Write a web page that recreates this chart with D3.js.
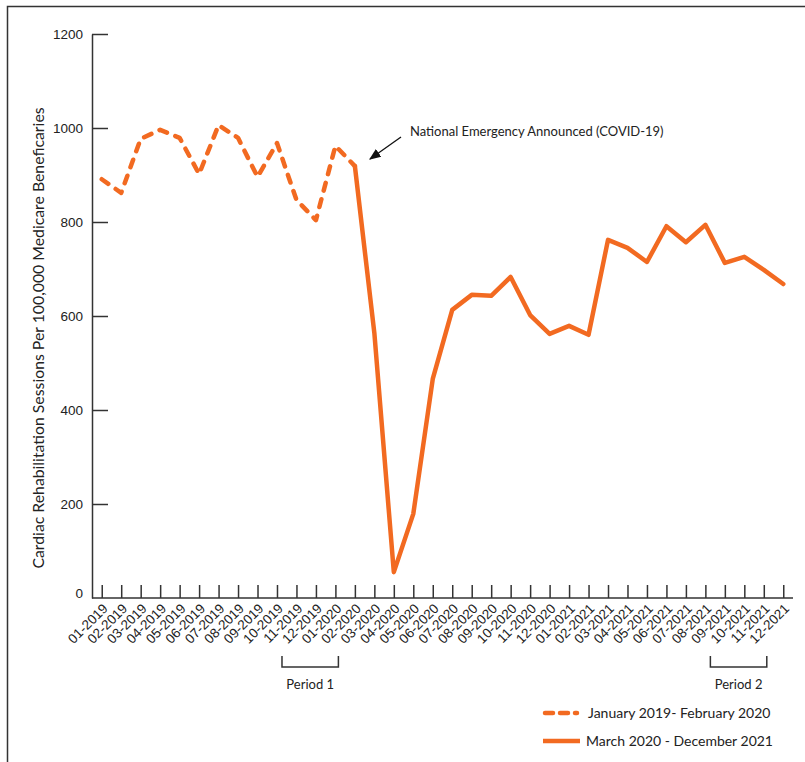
<!DOCTYPE html>
<html>
<head>
<meta charset="utf-8">
<script src="https://cdn.jsdelivr.net/npm/d3@7"></script>
<style>
  body { margin: 0; background: #fff; }
  svg { font-family: Lato, "Open Sans", sans-serif; }
  .axis text { font-size: 13.5px; fill: #222; }
  .axis path, .axis line { stroke: #333; stroke-width: 1.5; }
</style>
</head>
<body>
<svg id="chart" width="805" height="762"></svg>
<script>
var months = ['01-2019','02-2019','03-2019','04-2019','05-2019','06-2019','07-2019','08-2019','09-2019','10-2019','11-2019','12-2019',
              '01-2020','02-2020','03-2020','04-2020','05-2020','06-2020','07-2020','08-2020','09-2020','10-2020','11-2020','12-2020',
              '01-2021','02-2021','03-2021','04-2021','05-2021','06-2021','07-2021','08-2021','09-2021','10-2021','11-2021','12-2021'];
var sessions = [891, 862, 977, 996, 979, 902, 1006, 979, 896, 968, 847, 804,
                962, 919, 564, 55, 179, 466, 613, 645, 643, 683, 602, 562,
                579, 560, 762, 745, 715, 791, 757, 794, 713, 726, 698, 668];
var yTicks = [0, 200, 400, 600, 800, 1000, 1200];
var periods = [
    {name: 'Period 1', from: '10-2019', to: '01-2020'},
    {name: 'Period 2', from: '08-2021', to: '11-2021'}
];
var preEnd = 13; // 02-2020, last point of the dashed series

var orange = '#f26a21';
var svg = d3.select('#chart');

// frame
svg.append('path')
    .attr('d', 'M805,6.5H7.5V762')
    .attr('fill', 'none')
    .attr('stroke', '#333')
    .attr('stroke-width', 1.5);

var x = d3.scalePoint().domain(months).range([92, 793]).padding(0.5);
var y = d3.scaleLinear().domain([0, 1200]).range([598, 34]);

var yAxis = svg.append('g')
    .attr('class', 'axis')
    .attr('transform', 'translate(92,0)')
    .call(d3.axisLeft(y).tickValues(yTicks).tickFormat(d3.format('d'))
        .tickSize(-16).tickSizeOuter(0).tickPadding(9));
yAxis.selectAll('.tick').filter(function(d) { return d == 0; })
    .select('line').remove();
yAxis.selectAll('.tick').filter(function(d) { return d == 0; })
    .select('text').attr('y', -5);

var xAxis = svg.append('g')
    .attr('class', 'axis')
    .attr('transform', 'translate(0,598)')
    .call(d3.axisBottom(x).tickSize(-13).tickSizeOuter(0));
xAxis.select('.domain').attr('d', 'M92,0H793');
xAxis.selectAll('text')
    .attr('y', 0)
    .attr('dy', '0.35em')
    .attr('text-anchor', 'end')
    .attr('transform', 'translate(3,8) rotate(-45)');

svg.append('text')
    .attr('transform', 'translate(44,338) rotate(-90)')
    .attr('text-anchor', 'middle')
    .style('font-size', '15.8px')
    .style('fill', '#222')
    .text('Cardiac Rehabilitation Sessions Per 100,000 Medicare Beneficaries');

var line = d3.line()
    .x(function(d) { return x(d.m); })
    .y(function(d) { return y(d.v); });

var pts = months.map(function(m, i) { return {m: m, v: sessions[i]}; });

svg.append('path')
    .datum(pts.slice(0, preEnd + 1))
    .attr('d', line)
    .attr('fill', 'none')
    .attr('stroke', orange)
    .attr('stroke-width', 4.5)
    .attr('stroke-linejoin', 'round')
    .attr('stroke-linecap', 'round')
    .attr('stroke-dasharray', '8,9');

svg.append('path')
    .datum(pts.slice(preEnd))
    .attr('d', line)
    .attr('fill', 'none')
    .attr('stroke', orange)
    .attr('stroke-width', 4.5)
    .attr('stroke-linejoin', 'round')
    .attr('stroke-linecap', 'round');

// annotation
svg.append('defs').append('marker')
    .attr('id', 'arrow')
    .attr('viewBox', '0 0 10 10')
    .attr('refX', 9).attr('refY', 5)
    .attr('markerWidth', 9).attr('markerHeight', 9)
    .attr('orient', 'auto')
    .append('path').attr('d', 'M0,1L10,5L0,9z').attr('fill', '#111');

svg.append('line')
    .attr('x1', 401).attr('y1', 137)
    .attr('x2', 370).attr('y2', 159)
    .attr('stroke', '#111')
    .attr('stroke-width', 1.3)
    .attr('marker-end', 'url(#arrow)');

svg.append('text')
    .attr('x', 410).attr('y', 136)
    .style('font-size', '13px')
    .style('fill', '#222')
    .text('National Emergency Announced (COVID-19)');

// period brackets
var pg = svg.selectAll('g.period')
    .data(periods)
    .enter().append('g')
    .attr('class', 'period');
pg.append('path')
    .attr('d', function(d) {
        var x0 = x(d.from) + 5, x1 = x(d.to) + 3;
        return 'M' + x0 + ',656V667H' + x1 + 'V656';
    })
    .attr('fill', 'none')
    .attr('stroke', '#333')
    .attr('stroke-width', 1.5);
pg.append('text')
    .attr('x', function(d) { return (x(d.from) + x(d.to)) / 2 + 4; })
    .attr('y', 689)
    .attr('text-anchor', 'middle')
    .style('font-size', '13px')
    .style('fill', '#222')
    .text(function(d) { return d.name; });

// legend
var legend = [
    {label: 'January 2019- February 2020', dash: '8,7', y: 713, x0: 545, x1: 577, tx: 588},
    {label: 'March 2020 - December 2021', dash: null, y: 741, x0: 543, x1: 580, tx: 586}
];
var lg = svg.selectAll('g.legend')
    .data(legend)
    .enter().append('g')
    .attr('class', 'legend');
lg.append('line')
    .attr('x1', function(d) { return d.x0; })
    .attr('x2', function(d) { return d.x1; })
    .attr('y1', function(d) { return d.y; })
    .attr('y2', function(d) { return d.y; })
    .attr('stroke', orange)
    .attr('stroke-width', 4.5)
    .attr('stroke-linecap', function(d) { return d.dash ? 'round' : 'butt'; })
    .attr('stroke-dasharray', function(d) { return d.dash; });
lg.append('text')
    .attr('x', function(d) { return d.tx; })
    .attr('y', function(d) { return d.y + 5; })
    .style('font-size', '14px')
    .style('fill', '#222')
    .text(function(d) { return d.label; });
</script>
</body>
</html>
